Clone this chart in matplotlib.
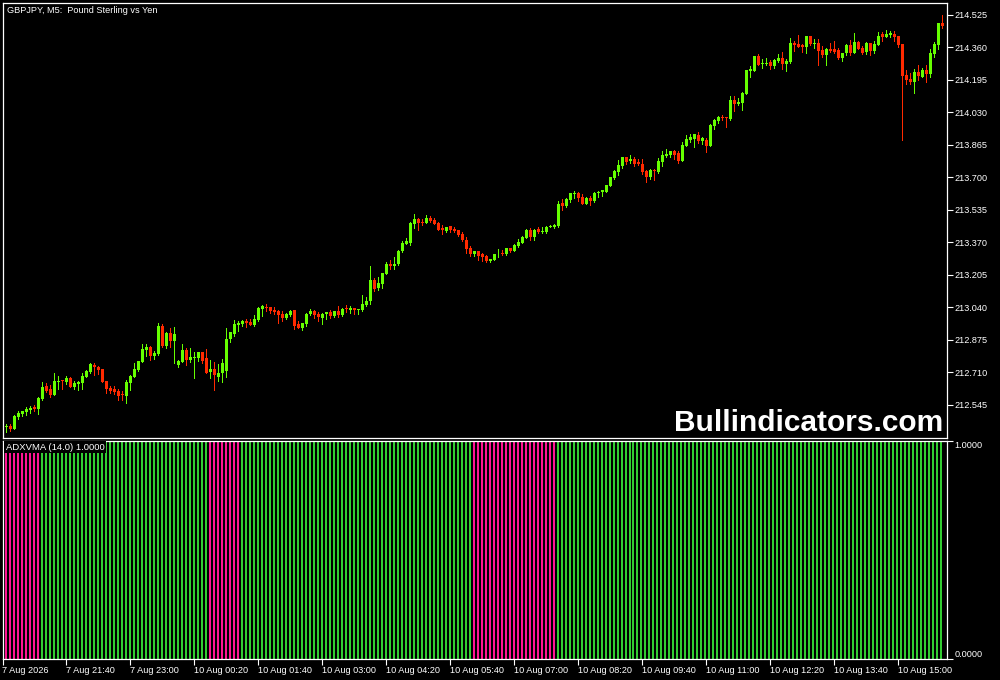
import matplotlib
matplotlib.use("Agg")
import matplotlib.pyplot as plt
import numpy as np

plt.rcParams['font.family'] = ['Liberation Sans', 'DejaVu Sans']

# GBPJPY M5 candles (bar 0 = 7 Aug 20:20)
opens = [
    212.438, 212.431, 212.438, 212.425, 212.486, 212.497, 212.511, 212.519, 212.533, 212.526,
    212.575, 212.640, 212.626, 212.597, 212.663, 212.672, 212.662, 212.682, 212.638, 212.653,
    212.656, 212.689, 212.712, 212.748, 212.738, 212.726, 212.667, 212.633, 212.624, 212.616,
    212.599, 212.592, 212.658, 212.689, 212.722, 212.765, 212.824, 212.839, 212.795, 212.804,
    212.946, 212.844, 212.909, 212.870, 212.748, 212.765, 212.824, 212.773, 212.785, 212.785,
    212.812, 212.782, 212.714, 212.726, 212.689, 212.706, 212.719, 212.880, 212.905, 212.951,
    212.956, 212.973, 212.967, 212.951, 212.977, 213.034, 213.041, 213.043, 213.028, 213.023,
    213.004, 212.985, 213.002, 213.026, 212.955, 212.933, 212.956, 213.007, 213.023, 213.005,
    212.987, 213.004, 213.017, 212.995, 213.024, 213.002, 213.036, 213.026, 213.038, 213.029,
    213.028, 213.053, 213.070, 213.180, 213.136, 213.161, 213.212, 213.261, 213.251, 213.258,
    213.327, 213.364, 213.366, 213.464, 213.490, 213.474, 213.471, 213.493, 213.486, 213.469,
    213.441, 213.430, 213.451, 213.437, 213.434, 213.415, 213.383, 213.341, 213.312, 213.327,
    213.310, 213.302, 213.276, 213.282, 213.309, 213.314, 213.309, 213.341, 213.327, 213.351,
    213.369, 213.393, 213.434, 213.398, 213.439, 213.425, 213.424, 213.446, 213.447, 213.452,
    213.569, 213.557, 213.584, 213.616, 213.620, 213.599, 213.567, 213.598, 213.579, 213.620,
    213.625, 213.627, 213.654, 213.696, 213.726, 213.759, 213.804, 213.781, 213.792, 213.776,
    213.769, 213.733, 213.701, 213.740, 213.726, 213.777, 213.809, 213.814, 213.835, 213.823,
    213.784, 213.862, 213.891, 213.894, 213.916, 213.887, 213.891, 213.862, 213.963, 213.987,
    214.009, 214.007, 213.997, 214.093, 214.073, 214.080, 214.126, 214.242, 214.242, 214.317,
    214.274, 214.276, 214.285, 214.266, 214.293, 214.307, 214.278, 214.285, 214.381, 214.378,
    214.373, 214.364, 214.418, 214.378, 214.381, 214.347, 214.324, 214.354, 214.354, 214.347,
    214.308, 214.330, 214.373, 214.334, 214.388, 214.359, 214.335, 214.383, 214.344, 214.374,
    214.428, 214.415, 214.422, 214.428, 214.418, 214.378, 214.219, 214.202, 214.185, 214.237,
    214.210, 214.246, 214.225, 214.329, 214.373, 214.486,
]
highs = [
    212.441, 212.448, 212.448, 212.492, 212.514, 212.516, 212.533, 212.540, 212.545, 212.584,
    212.662, 212.655, 212.646, 212.707, 212.692, 212.672, 212.692, 212.689, 212.668, 212.668,
    212.706, 212.722, 212.756, 212.760, 212.744, 212.726, 212.667, 212.641, 212.641, 212.626,
    212.616, 212.672, 212.695, 212.756, 212.768, 212.853, 212.854, 212.844, 212.817, 212.959,
    212.954, 212.915, 212.934, 212.939, 212.773, 212.854, 212.832, 212.832, 212.812, 212.812,
    212.812, 212.827, 212.773, 212.765, 212.751, 212.777, 212.934, 212.914, 212.976, 212.971,
    212.977, 212.982, 212.982, 213.002, 213.043, 213.050, 213.058, 213.043, 213.043, 213.028,
    213.021, 213.011, 213.029, 213.029, 212.972, 212.961, 213.012, 213.033, 213.029, 213.017,
    213.012, 213.017, 213.028, 213.023, 213.048, 213.036, 213.053, 213.045, 213.038, 213.033,
    213.104, 213.093, 213.251, 213.190, 213.195, 213.215, 213.271, 213.281, 213.297, 213.331,
    213.376, 213.393, 213.476, 213.515, 213.495, 213.490, 213.510, 213.503, 213.496, 213.476,
    213.457, 213.447, 213.454, 213.447, 213.435, 213.425, 213.395, 213.351, 213.327, 213.327,
    213.315, 213.305, 213.287, 213.312, 213.339, 213.332, 213.342, 213.344, 213.361, 213.388,
    213.403, 213.440, 213.442, 213.439, 213.446, 213.446, 213.452, 213.459, 213.466, 213.578,
    213.591, 213.598, 213.622, 213.633, 213.628, 213.616, 213.599, 213.606, 213.628, 213.632,
    213.638, 213.662, 213.704, 213.737, 213.789, 213.804, 213.804, 213.813, 213.804, 213.792,
    213.792, 213.738, 213.743, 213.743, 213.798, 213.835, 213.843, 213.836, 213.840, 213.833,
    213.880, 213.916, 213.921, 213.921, 213.931, 213.904, 213.902, 213.972, 213.997, 214.014,
    214.017, 214.007, 214.114, 214.114, 214.102, 214.136, 214.246, 214.266, 214.317, 214.327,
    214.302, 214.305, 214.296, 214.300, 214.329, 214.337, 214.302, 214.406, 214.395, 214.423,
    214.378, 214.418, 214.418, 214.403, 214.401, 214.368, 214.356, 214.381, 214.393, 214.356,
    214.332, 214.378, 214.398, 214.435, 214.395, 214.369, 214.386, 214.383, 214.391, 214.437,
    214.439, 214.449, 214.445, 214.444, 214.418, 214.378, 214.246, 214.229, 214.251, 214.269,
    214.254, 214.269, 214.352, 214.390, 214.483, 214.525,
]
lows = [
    212.425, 212.409, 212.414, 212.423, 212.472, 212.489, 212.492, 212.502, 212.514, 212.501,
    212.570, 212.609, 212.587, 212.596, 212.624, 212.628, 212.650, 212.634, 212.628, 212.621,
    212.628, 212.689, 212.706, 212.697, 212.702, 212.663, 212.604, 212.604, 212.601, 212.570,
    212.570, 212.557, 212.621, 212.685, 212.719, 212.765, 212.795, 212.773, 212.780, 212.799,
    212.838, 212.836, 212.841, 212.760, 212.739, 212.765, 212.748, 212.765, 212.684, 212.770,
    212.756, 212.706, 212.680, 212.621, 212.668, 212.663, 212.689, 212.866, 212.897, 212.922,
    212.946, 212.938, 212.951, 212.946, 212.973, 212.997, 213.023, 213.011, 213.009, 212.963,
    212.973, 212.982, 212.995, 212.931, 212.933, 212.923, 212.948, 213.002, 212.985, 212.973,
    212.958, 212.980, 212.985, 212.992, 212.989, 212.994, 213.017, 213.014, 213.004, 213.004,
    213.024, 213.045, 213.056, 213.121, 213.126, 213.139, 213.212, 213.236, 213.236, 213.253,
    213.322, 213.361, 213.359, 213.444, 213.435, 213.456, 213.468, 213.474, 213.466, 213.435,
    213.415, 213.425, 213.425, 213.424, 213.405, 213.376, 213.315, 213.303, 213.302, 213.281,
    213.276, 213.271, 213.268, 213.282, 213.298, 213.305, 213.305, 213.322, 213.324, 213.347,
    213.369, 213.390, 213.383, 213.383, 213.417, 213.417, 213.417, 213.446, 213.444, 213.447,
    213.535, 213.549, 213.576, 213.593, 213.578, 213.566, 213.564, 213.561, 213.576, 213.599,
    213.606, 213.627, 213.654, 213.693, 213.713, 213.750, 213.769, 213.774, 213.760, 213.764,
    213.718, 213.679, 213.693, 213.688, 213.721, 213.759, 213.803, 213.803, 213.794, 213.772,
    213.784, 213.862, 213.882, 213.852, 213.874, 213.870, 213.831, 213.862, 213.948, 213.978,
    213.992, 213.958, 213.992, 214.038, 214.066, 214.043, 214.124, 214.212, 214.241, 214.271,
    214.256, 214.269, 214.251, 214.254, 214.288, 214.251, 214.241, 214.280, 214.342, 214.364,
    214.337, 214.334, 214.373, 214.357, 214.273, 214.310, 214.273, 214.339, 214.334, 214.302,
    214.293, 214.320, 214.324, 214.334, 214.354, 214.329, 214.327, 214.322, 214.334, 214.374,
    214.393, 214.412, 214.412, 214.395, 214.364, 213.890, 214.173, 214.175, 214.131, 214.195,
    214.210, 214.186, 214.210, 214.312, 214.352, 214.457,
]
closes = [
    212.431, 212.438, 212.425, 212.489, 212.502, 212.513, 212.523, 212.531, 212.523, 212.580,
    212.634, 212.618, 212.596, 212.667, 212.667, 212.667, 212.682, 212.638, 212.655, 212.663,
    212.692, 212.717, 212.751, 212.736, 212.722, 212.663, 212.628, 212.616, 212.611, 212.590,
    212.596, 212.662, 212.692, 212.728, 212.768, 212.829, 212.839, 212.795, 212.810, 212.946,
    212.846, 212.912, 212.871, 212.904, 212.768, 212.824, 212.773, 212.787, 212.790, 212.812,
    212.770, 212.709, 212.726, 212.695, 212.706, 212.756, 212.878, 212.914, 212.954, 212.963,
    212.972, 212.960, 212.951, 212.982, 213.039, 213.045, 213.036, 213.023, 213.016, 212.999,
    212.985, 213.007, 213.023, 212.946, 212.933, 212.961, 213.009, 213.023, 212.999, 212.990,
    213.009, 213.017, 212.997, 213.021, 213.000, 213.033, 213.031, 213.039, 213.029, 213.033,
    213.058, 213.075, 213.180, 213.132, 213.165, 213.215, 213.261, 213.251, 213.261, 213.327,
    213.368, 213.376, 213.469, 213.490, 213.469, 213.471, 213.493, 213.478, 213.466, 213.435,
    213.432, 213.447, 213.432, 213.430, 213.410, 213.380, 213.337, 213.312, 213.327, 213.302,
    213.298, 213.276, 213.287, 213.312, 213.312, 213.309, 213.342, 213.327, 213.356, 213.373,
    213.400, 213.434, 213.395, 213.434, 213.424, 213.430, 213.449, 213.451, 213.459, 213.566,
    213.557, 213.591, 213.622, 213.623, 213.594, 213.566, 213.596, 213.579, 213.623, 213.628,
    213.635, 213.659, 213.703, 213.733, 213.764, 213.804, 213.777, 213.794, 213.767, 213.767,
    213.726, 213.701, 213.738, 213.733, 213.781, 213.814, 213.821, 213.833, 213.814, 213.784,
    213.865, 213.896, 213.906, 213.919, 213.887, 213.899, 213.862, 213.967, 213.992, 214.005,
    214.002, 214.000, 214.093, 214.073, 214.085, 214.127, 214.246, 214.249, 214.317, 214.271,
    214.283, 214.283, 214.264, 214.295, 214.308, 214.278, 214.293, 214.383, 214.373, 214.364,
    214.361, 214.418, 214.378, 214.381, 214.344, 214.322, 214.352, 214.344, 214.339, 214.305,
    214.332, 214.374, 214.332, 214.386, 214.354, 214.332, 214.383, 214.344, 214.378, 214.418,
    214.415, 214.428, 214.432, 214.415, 214.374, 214.217, 214.195, 214.185, 214.234, 214.217,
    214.246, 214.225, 214.332, 214.378, 214.483, 214.469,
]

# ADXVMA direction as runs of bars: -1 = falling (pink), 1 = rising (green)
trend_runs = [(-1, 10), (1, 42), (-1, 8), (1, 58), (-1, 21), (1, 97)]
adx_value = 1.0

time_labels = ['7 Aug 2026', '7 Aug 21:40', '7 Aug 23:00', '10 Aug 00:20',
               '10 Aug 01:40', '10 Aug 03:00', '10 Aug 04:20', '10 Aug 05:40',
               '10 Aug 07:00', '10 Aug 08:20', '10 Aug 09:40', '10 Aug 11:00',
               '10 Aug 12:20', '10 Aug 13:40', '10 Aug 15:00']
bars_per_label = 16
price_ticks = [214.525, 214.360, 214.195, 214.030, 213.865, 213.700, 213.535,
               213.370, 213.205, 213.040, 212.875, 212.710, 212.545]

BULL = '#66ff00'
BEAR = '#ff2a00'
UP_HIST = '#32cd32'
DN_HIST = '#ff1493'
FS = 6.6

o = np.array(opens)
h = np.array(highs)
l = np.array(lows)
c = np.array(closes)
n = len(c)
x = np.arange(n)

fig = plt.figure(figsize=(10, 6.8), dpi=100, facecolor='black')
ax = fig.add_axes([0.0025, 0.3559, 0.9445, 0.6404], facecolor='black')
ax2 = fig.add_axes([0.0025, 0.0316, 0.9445, 0.3206], facecolor='black')

# candles: 1 px wicks, 3 px bodies, no antialiasing so they stay crisp
cols = np.where(c >= o, BULL, BEAR)
lo_body = np.minimum(o, c)
hi_body = np.maximum(o, c)
ax.vlines(x, np.minimum(l, lo_body), np.maximum(h, hi_body), colors=cols,
          lw=0.7, antialiased=False)
ax.bar(x, np.maximum(hi_body - lo_body, 0.004), bottom=lo_body, width=0.68,
       color=cols, linewidth=0, antialiased=False)

ax.set_xlim(0.05, 236.2)
ax.set_ylim(212.377, 214.588)
ax.yaxis.tick_right()
ax.set_yticks(price_ticks)
ax.set_yticklabels([f'{p:.3f}' for p in price_ticks])
ax.set_xticks([])
ax.tick_params(axis='y', colors='white', labelcolor='white', length=4,
               width=0.8, labelsize=FS, pad=1.5)
for s in ax.spines.values():
    s.set_color('white')
    s.set_linewidth(0.9)

ax.text(0.0048, 0.9765, 'GBPJPY, M5:  Pound Sterling vs Yen', transform=ax.transAxes,
        color='white', fontsize=FS, va='baseline', ha='left')
ax.text(0.9958, 0.016, 'Bullindicators.com', transform=ax.transAxes, color='white',
        fontsize=21.5, fontweight='bold', ha='right', va='baseline')

# ADXVMA histogram
trend = np.concatenate([[d] * k for d, k in trend_runs])
hcols = np.where(trend > 0, UP_HIST, DN_HIST)
ax2.bar(x - 0.2, np.full(n, adx_value), width=0.5, color=hcols, linewidth=0,
        antialiased=False)
ax2.set_xlim(0.05, 236.2)
ax2.set_ylim(0, 1)
ax2.yaxis.tick_right()
ax2.set_yticks([0, 1])
ax2.set_yticklabels(['0.0000', '1.0000'])
yl = ax2.get_yticklabels()
yl[0].set_va('bottom')
yl[1].set_va('top')
tick_pos = np.arange(0, n, bars_per_label)[:len(time_labels)]
ax2.set_xticks(tick_pos)
ax2.set_xticklabels(time_labels, ha='left')
ax2.tick_params(colors='white', labelcolor='white', length=4, width=0.8,
                labelsize=FS, pad=1.5)
for s in ax2.spines.values():
    s.set_color('white')
    s.set_linewidth(0.9)

ax2.text(0.0037, 0.958, 'ADXVMA (14.0) 1.0000', transform=ax2.transAxes, color='white',
         fontsize=6.8, ha='left', va='baseline',
         bbox=dict(facecolor='black', edgecolor='none', pad=1.2))

fig.savefig('out.png', dpi=100, facecolor='black')
